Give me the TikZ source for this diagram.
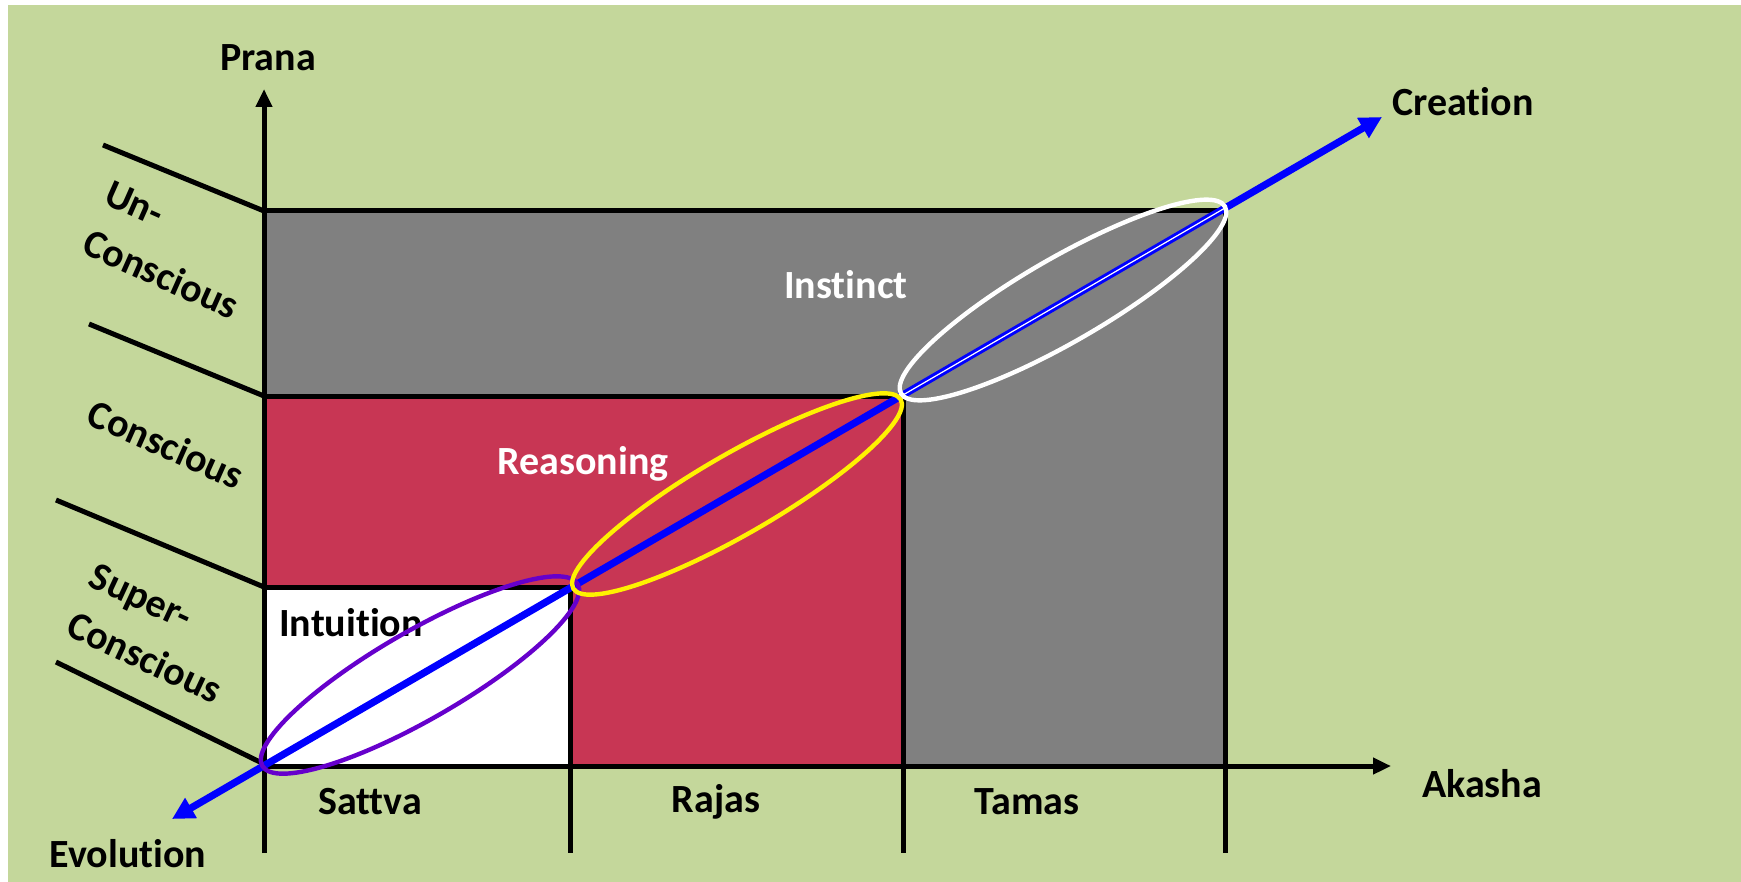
\documentclass[tikz,border=0pt]{standalone}
\usepackage{fontspec}
\setmainfont{Carlito}[Ligatures={NoCommon}]
\usetikzlibrary{arrows.meta, positioning, shapes.geometric}
\definecolor{bggreen}{RGB}{196,215,155}
\definecolor{boxred}{RGB}{200,54,84}
\definecolor{boxgray}{RGB}{128,128,128}
\definecolor{ringviolet}{RGB}{102,0,204}

\begin{document}
\begin{tikzpicture}[
        x=0.5pt, y=-0.5pt,
        lbl/.style={font=\fontsize{20}{27}\selectfont\bfseries, inner sep=0pt, align=left},
        edge/.style={line width=2.5pt},
        axis/.style={edge, -{Triangle[length=9pt, width=8pt]}},
        flow/.style={draw=blue, line width=3.6pt, {Triangle[length=11pt, width=11pt]}-{Triangle[length=11pt, width=11pt]}},
        ring/.style={ellipse, draw, line width=2.2pt, inner sep=0pt, rotate=30}
    ]
    \useasboundingbox (0,0) rectangle (1741,882);
    \fill[white] (0,0) rectangle (1741,882);
    \fill[bggreen] (8,5) rectangle (1741,882);

    \coordinate (o) at (264,764);
    \coordinate (c1) at (570,587);
    \coordinate (c2) at (903,395);
    \coordinate (c3) at (1225,208);
    \coordinate (evo) at (172,819);
    \coordinate (cre) at (1382,117);
    \coordinate (ytip) at (264,89);
    \coordinate (xtip) at (1391,766);

    \fill[boxgray] (264,211) rectangle (1225,766);
    \fill[boxred] (264,396) rectangle (903,764);
    \fill[white] (264,587) rectangle (570,764);

    \draw[edge] (264,211) -- (1225,211);
    \draw[edge] (264,396) -- (903,396);
    \draw[edge] (264,587) -- (570,587);
    \draw[edge] (570,587) -- (570,853);
    \draw[edge] (903,396) -- (903,853);
    \draw[edge] (1225,211) -- (1225,853);
    \draw[edge] (103,145) -- (264,211);
    \draw[edge] (89,324) -- (264,396);
    \draw[edge] (56,500) -- (264,587);
    \draw[edge] (56,662) -- (264,764);
    \draw[axis] (264,853) -- (ytip);
    \draw[axis] (264,766) -- (xtip);

    \node[lbl] (prana) at (268,58) {Prana};
    \node[lbl] (akasha) at (1482,784) {Akasha};
    \node[lbl] (creation) at (1463,102) {Creation};
    \node[lbl] (evolution) at (128,854) {Evolution};
    \node[lbl] (sattva) at (370,802) {Sattva};
    \node[lbl] (rajas) at (716,802) {Rajas};
    \node[lbl] (tamas) at (1027,802) {Tamas};
    \node[lbl, text=white] (instinct) at (846,285) {Instinct};
    \node[lbl, text=white] (reasoning) at (583,464) {Reasoning};
    \node[lbl] (intuition) at (351,623) {Intuition};
    \node[lbl, rotate=-24] (uncon) at (172,250) {Un-\\Conscious};
    \node[lbl, rotate=-24] (con) at (166,444) {Conscious};
    \node[lbl, rotate=-25] (supcon) at (156,633) {Super-\\Conscious};

    \draw[flow] (evo) -- (cre);
    \draw[white, line width=0.6pt] (c2) -- (c3);

    \node[ring, draw=ringviolet, minimum width=182pt, minimum height=44pt] (ringintu) at (420,675) {};
    \node[ring, draw=yellow, minimum width=189pt, minimum height=40pt] (ringreas) at (737,494) {};
    \node[ring, draw=white, minimum width=187pt, minimum height=42pt] (ringinst) at (1063,300) {};
\end{tikzpicture}
\end{document}
